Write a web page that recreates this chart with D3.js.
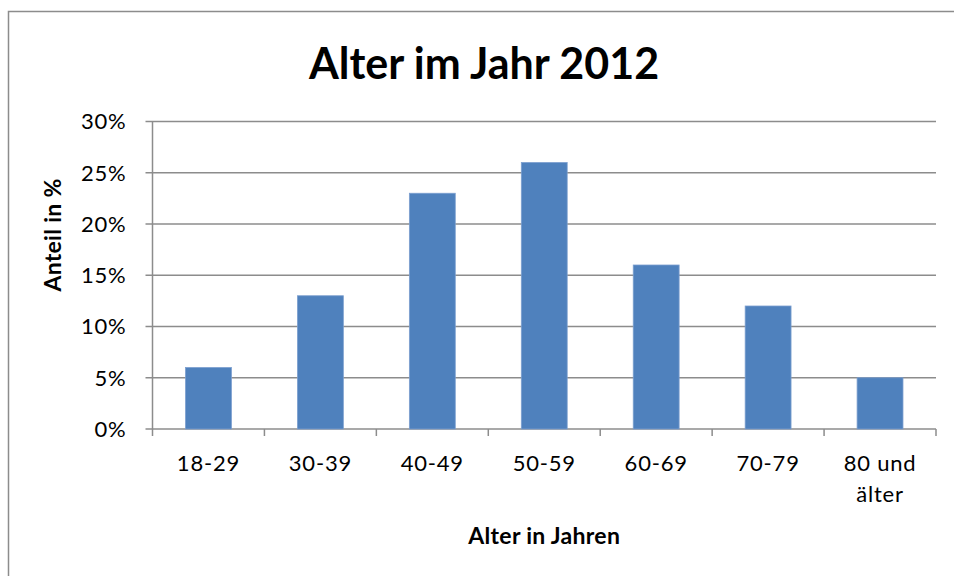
<!DOCTYPE html>
<html>
<head>
<meta charset="utf-8">
<script src="https://cdn.jsdelivr.net/npm/d3@7"></script>
<style>
  body { margin: 0; background: #fff; }
  text { font-family: Lato, "Open Sans", sans-serif; fill: #000; }
</style>
</head>
<body>
<svg id="chart" width="954" height="576"></svg>
<script>
var categories = ["18-29", "30-39", "40-49", "50-59", "60-69", "70-79", "80 und\nälter"];
var values = [0.06, 0.13, 0.23, 0.26, 0.16, 0.12, 0.05];
var yTicks = [0, 0.05, 0.10, 0.15, 0.20, 0.25, 0.30];

var data = categories.map(function (c, i) { return {cat: c, val: values[i]}; });

var svg = d3.select("#chart"),
  margin = {top: 121.5, right: 18, bottom: 147, left: 152.5},
  width = 954 - margin.left - margin.right,
  height = 576 - margin.top - margin.bottom;

// outer frame (runs off the right and bottom edge)
svg.append("rect")
  .attr("x", 8.5).attr("y", 11.5)
  .attr("width", 1000).attr("height", 1000)
  .attr("fill", "none")
  .attr("stroke", "#8c8c8c")
  .attr("stroke-width", 1.5);

svg.append("text")
  .attr("x", 484).attr("y", 79)
  .attr("text-anchor", "middle")
  .style("font-size", "43px")
  .style("font-weight", "bold")
  .text("Alter im Jahr 2012");

var g = svg.append("g").attr("transform", "translate(" + margin.left + "," + margin.top + ")");

var x = d3.scaleBand()
  .domain(categories)
  .range([0, width])
  .padding(0);

var y = d3.scaleLinear()
  .domain([0, 0.30])
  .range([height, 0]);

// gridlines
g.append("g")
  .selectAll("line")
  .data(yTicks)
  .enter().append("line")
    .attr("x1", -7).attr("x2", width)
    .attr("y1", function (d) { return y(d); })
    .attr("y2", function (d) { return y(d); })
    .attr("stroke", "#8c8c8c")
    .attr("stroke-width", 1.5);

// y labels
g.append("g")
  .selectAll("text")
  .data(yTicks)
  .enter().append("text")
    .attr("x", -26)
    .attr("y", function (d) { return y(d); })
    .attr("dy", "0.36em")
    .attr("text-anchor", "end")
    .style("font-size", "22px")
    .style("letter-spacing", "0.8px")
    .text(d3.format(".0%"));

// y axis line
g.append("line")
  .attr("x1", 0).attr("x2", 0)
  .attr("y1", 0).attr("y2", height + 7)
  .attr("stroke", "#8c8c8c")
  .attr("stroke-width", 1.5);

// x ticks at category boundaries
g.append("g")
  .selectAll("line")
  .data(categories)
  .enter().append("line")
    .attr("x1", function (d) { return x(d) + x.bandwidth(); })
    .attr("x2", function (d) { return x(d) + x.bandwidth(); })
    .attr("y1", height).attr("y2", height + 7)
    .attr("stroke", "#8c8c8c")
    .attr("stroke-width", 1.5);

var barW = x.bandwidth() * 0.41;

g.append("g")
  .selectAll("rect")
  .data(data)
  .enter().append("rect")
    .attr("x", function (d) { return x(d.cat) + (x.bandwidth() - barW) / 2; })
    .attr("y", function (d) { return y(d.val); })
    .attr("width", barW)
    .attr("height", function (d) { return height - y(d.val); })
    .attr("fill", "#4f81bd")
    .attr("stroke", "#7c9fcf")
    .attr("stroke-width", 0.8);

// x labels
var xl = g.append("g")
  .selectAll("text")
  .data(categories)
  .enter().append("text")
    .attr("text-anchor", "middle")
    .attr("transform", function (d) {
      return "translate(" + (x(d) + x.bandwidth() / 2) + "," + (height + 42) + ")";
    })
    .style("font-size", "22px")
    .style("letter-spacing", "0.8px");
xl.selectAll("tspan")
  .data(function (d) { return d.split("\n"); })
  .enter().append("tspan")
    .attr("x", 0)
    .attr("dy", function (d, i) { return i ? 31 : 0; })
    .text(function (d) { return d; });

// axis titles
svg.append("text")
  .attr("x", margin.left + width / 2).attr("y", 544)
  .attr("text-anchor", "middle")
  .style("font-size", "23px")
  .style("font-weight", "bold")
  .style("letter-spacing", "0.3px")
  .text("Alter in Jahren");

svg.append("text")
  .attr("transform", "translate(61,235) rotate(-90)")
  .attr("text-anchor", "middle")
  .style("font-size", "23px")
  .style("font-weight", "bold")
  .style("letter-spacing", "0.3px")
  .text("Anteil in %");
</script>
</body>
</html>
